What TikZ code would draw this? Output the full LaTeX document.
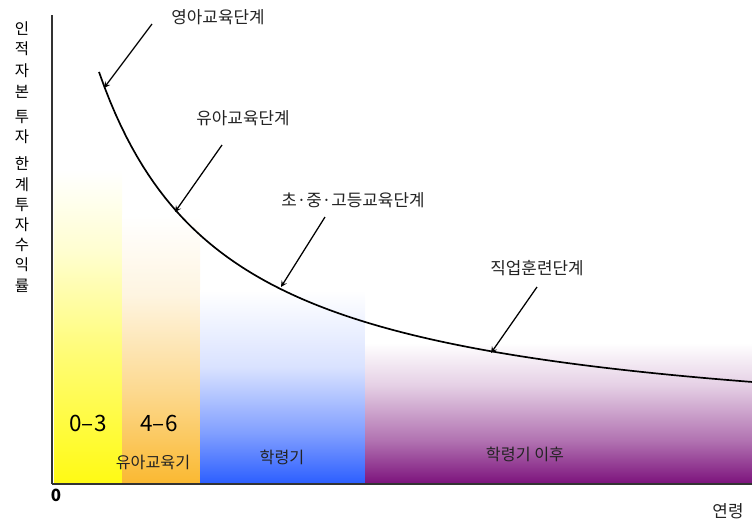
\documentclass[tikz,border=0pt]{standalone}
\usepackage{fontspec}
\setmainfont{Noto Sans CJK KR}
\usetikzlibrary{calc}

\definecolor{bandyellow}{RGB}{255,250,20}
\definecolor{bandorange}{RGB}{250,185,50}
\definecolor{bandblue}{RGB}{45,95,255}
\definecolor{bandpurple}{RGB}{125,20,125}
\definecolor{labelgray}{RGB}{35,35,35}

% fades: the band's bottom edge sits at 25bp, its top edge at 75bp
\pgfdeclareverticalshading{yellowfade}{100bp}{color(0bp)=(bandyellow); color(25bp)=(bandyellow);
  color(45bp)=(bandyellow!60); color(62bp)=(bandyellow!20); color(75bp)=(white); color(100bp)=(white)}
\pgfdeclareverticalshading{orangefade}{100bp}{color(0bp)=(bandorange); color(25bp)=(bandorange);
  color(42bp)=(bandorange!55); color(60bp)=(bandorange!15); color(75bp)=(white); color(100bp)=(white)}
\pgfdeclareverticalshading{bluefade}{100bp}{color(0bp)=(bandblue); color(25bp)=(bandblue);
  color(38bp)=(bandblue!60); color(55bp)=(bandblue!18); color(75bp)=(white); color(100bp)=(white)}
\pgfdeclareverticalshading{purplefade}{100bp}{color(0bp)=(bandpurple); color(25bp)=(bandpurple);
  color(38bp)=(bandpurple!60); color(55bp)=(bandpurple!20); color(68bp)=(white); color(100bp)=(white)}

\tikzset{
  stage/.style={text=labelgray, font=\fontsize{12}{14}\selectfont, inner sep=1pt},
  period/.style={text=labelgray, font=\fontsize{11.5}{13}\selectfont, inner sep=1pt},
  agerange/.style={text=black, font=\fontsize{16}{18}\selectfont, inner sep=1pt},
  ychar/.style={text=black, font=\fontsize{11}{12}\selectfont, inner sep=0pt},
  pointer/.style={-stealth, line width=0.9pt},
}

\begin{document}
\begin{tikzpicture}[x=0.025cm, y=-0.025cm]
  \useasboundingbox (0,0) rectangle (752,522);

  % age bands
  \shade[shading=yellowfade] (54,170) rectangle (122,483);
  \shade[shading=orangefade] (122,215) rectangle (200,483);
  \shade[shading=bluefade] (200,290) rectangle (365,483);
  \shade[shading=purplefade] (365,320) rectangle (752,483);

  % axes
  \begin{scope}[black!80, line width=1.1pt]
    \draw (52,15) -- (52,484);
    \draw (52,484) -- (752,484);
  \end{scope}
  \node[font=\fontsize{12}{14}\selectfont\bfseries] (origin) at (56,495) {0};
  \node[stage] (age) at (728,511) {연령};
  \foreach \ch/\yy [count=\i] in {인/29, 적/49, 자/71, 본/92, 투/117, 자/137,
      한/164, 계/185, 투/205, 자/225, 수/245, 익/265, 률/286}
    \node[ychar] (ylab\i) at (22,\yy) {\ch};

  % marginal return curve
  \draw[line width=1.2pt] plot[domain=99:752, samples=120]
    (\x, {443.2-478.72/(\x*0.01+0.3)});

  % stage labels and pointers
  \node[stage] (infant) at (218,17) {영아교육단계};
  \node[stage] (preschool) at (243,118) {유아교육단계};
  \node[stage] (school) at (353,200) {초·중·고등교육단계};
  \node[stage] (vocation) at (537,268) {직업훈련단계};

  \coordinate (infant-from) at (152,24);
  \coordinate (infant-to) at (104,88);
  \coordinate (preschool-from) at (222,145);
  \coordinate (preschool-to) at (175,212);
  \coordinate (school-from) at (325,217);
  \coordinate (school-to) at (281,287);
  \coordinate (vocation-from) at (537,287);
  \coordinate (vocation-to) at (491,353);

  \draw[pointer] (infant-from) -- (infant-to);
  \draw[pointer] (preschool-from) -- (preschool-to);
  \draw[pointer] (school-from) -- (school-to);
  \draw[pointer] (vocation-from) -- (vocation-to);

  % band labels
  \node[agerange] (band03) at (88,423) {0--3};
  \node[agerange] (band46) at (159,423) {4--6};
  \node[period] (preschoolage) at (153,462) {유아교육기};
  \node[period] (schoolage) at (282,457) {학령기};
  \node[period] (afterschool) at (525,454) {학령기 이후};
\end{tikzpicture}
\end{document}
